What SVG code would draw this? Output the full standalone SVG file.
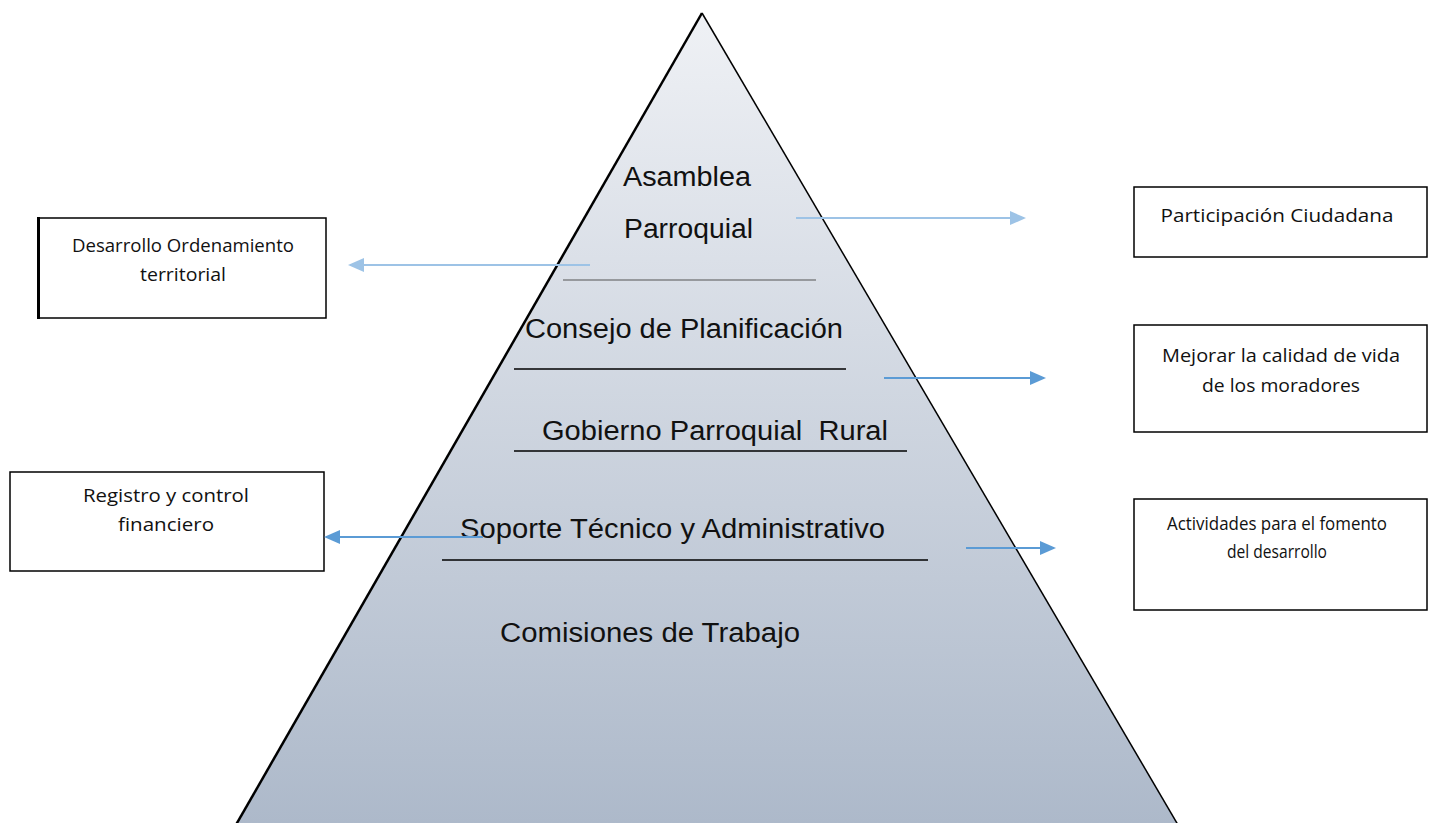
<svg xmlns="http://www.w3.org/2000/svg" width="1429" height="823" viewBox="0 0 1429 823">
<style>
.pt{font-family:"Liberation Sans",Arial,sans-serif;font-size:27px;fill:#111;white-space:pre}
.bt{font-family:"Open Sans","Noto Sans",sans-serif;font-size:19px;fill:#111;text-anchor:middle}
.box{fill:#fff;stroke:#000;stroke-width:1.5}
.sep{stroke:#000;stroke-width:1.6}
.lb{stroke:#9dc3e6;stroke-width:2;fill:none}
.mb{stroke:#5b9bd5;stroke-width:2;fill:none}
</style>
<defs>
<linearGradient id="g" x1="0" y1="13" x2="0" y2="823" gradientUnits="userSpaceOnUse">
<stop offset="0" stop-color="#eff1f5"/>
<stop offset="1" stop-color="#adb9ca"/>
</linearGradient>
<marker id="al" markerWidth="8" markerHeight="7" refX="7" refY="3.5" orient="auto" markerUnits="strokeWidth">
<path d="M0,0 L8,3.5 L0,7 z" fill="#9dc3e6"/>
</marker>
<marker id="am" markerWidth="8" markerHeight="7" refX="7" refY="3.5" orient="auto" markerUnits="strokeWidth">
<path d="M0,0 L8,3.5 L0,7 z" fill="#5b9bd5"/>
</marker>
</defs>
<rect width="1429" height="823" fill="#fff"/>
<g id="pyramid">
<polygon points="702,13 1181,830 233,830" fill="url(#g)"/>
<line x1="702" y1="13" x2="233" y2="830" stroke="#000" stroke-width="2.5"/>
<line x1="702" y1="13" x2="1181" y2="830" stroke="#000" stroke-width="1.5"/>
<line x1="563" y1="280" x2="816" y2="280" stroke="#555" stroke-width="1.2"/>
<line class="sep" x1="514" y1="369" x2="846" y2="369"/>
<line class="sep" x1="514" y1="451" x2="907" y2="451" stroke-width="2"/>
<line class="sep" x1="442" y1="560" x2="928" y2="560"/>
<text class="pt" x="623" y="186" textLength="128" lengthAdjust="spacingAndGlyphs">Asamblea</text>
<text class="pt" x="624" y="238" textLength="129" lengthAdjust="spacingAndGlyphs">Parroquial</text>
<text class="pt" x="525" y="338" textLength="318" lengthAdjust="spacingAndGlyphs">Consejo de Planificación</text>
<text class="pt" x="542" y="440" textLength="346" lengthAdjust="spacingAndGlyphs">Gobierno Parroquial  Rural</text>
<text class="pt" x="460" y="538" textLength="425" lengthAdjust="spacingAndGlyphs">Soporte Técnico y Administrativo</text>
<text class="pt" x="500" y="642" textLength="300" lengthAdjust="spacingAndGlyphs">Comisiones de Trabajo</text>
</g>
<g id="desarrollo">
<rect class="box" x="38" y="218" width="288" height="100"/>
<line x1="38.5" y1="217" x2="38.5" y2="319" stroke="#000" stroke-width="3"/>
<text class="bt" x="183" y="252" textLength="222" lengthAdjust="spacingAndGlyphs">Desarrollo Ordenamiento</text>
<text class="bt" x="183" y="281" textLength="86" lengthAdjust="spacingAndGlyphs">territorial</text>
</g>
<g id="participacion">
<rect class="box" x="1134" y="187" width="293" height="70"/>
<text class="bt" x="1277" y="222" textLength="233" lengthAdjust="spacingAndGlyphs">Participación Ciudadana</text>
</g>
<g id="mejorar">
<rect class="box" x="1134" y="325" width="293" height="107"/>
<text class="bt" x="1281" y="362" textLength="238" lengthAdjust="spacingAndGlyphs">Mejorar la calidad de vida</text>
<text class="bt" x="1281" y="392" textLength="158" lengthAdjust="spacingAndGlyphs">de los moradores</text>
</g>
<g id="registro">
<rect class="box" x="10" y="472" width="314" height="99"/>
<text class="bt" x="166" y="502" textLength="166" lengthAdjust="spacingAndGlyphs">Registro y control</text>
<text class="bt" x="166" y="531" textLength="96" lengthAdjust="spacingAndGlyphs">financiero</text>
</g>
<g id="actividades">
<rect class="box" x="1134" y="499" width="293" height="111"/>
<text class="bt" x="1277" y="530" textLength="220" lengthAdjust="spacingAndGlyphs">Actividades para el fomento</text>
<text class="bt" x="1277" y="558" textLength="100" lengthAdjust="spacingAndGlyphs">del desarrollo</text>
</g>
<g id="connectors">
<line class="lb" x1="590" y1="265" x2="350" y2="265" marker-end="url(#al)"/>
<line class="lb" x1="796" y1="218" x2="1024" y2="218" marker-end="url(#al)"/>
<line class="mb" x1="884" y1="378" x2="1044" y2="378" marker-end="url(#am)"/>
<line class="mb" x1="483" y1="537" x2="326" y2="537" marker-end="url(#am)"/>
<line class="mb" x1="966" y1="548" x2="1054" y2="548" marker-end="url(#am)"/>
</g>
</svg>
